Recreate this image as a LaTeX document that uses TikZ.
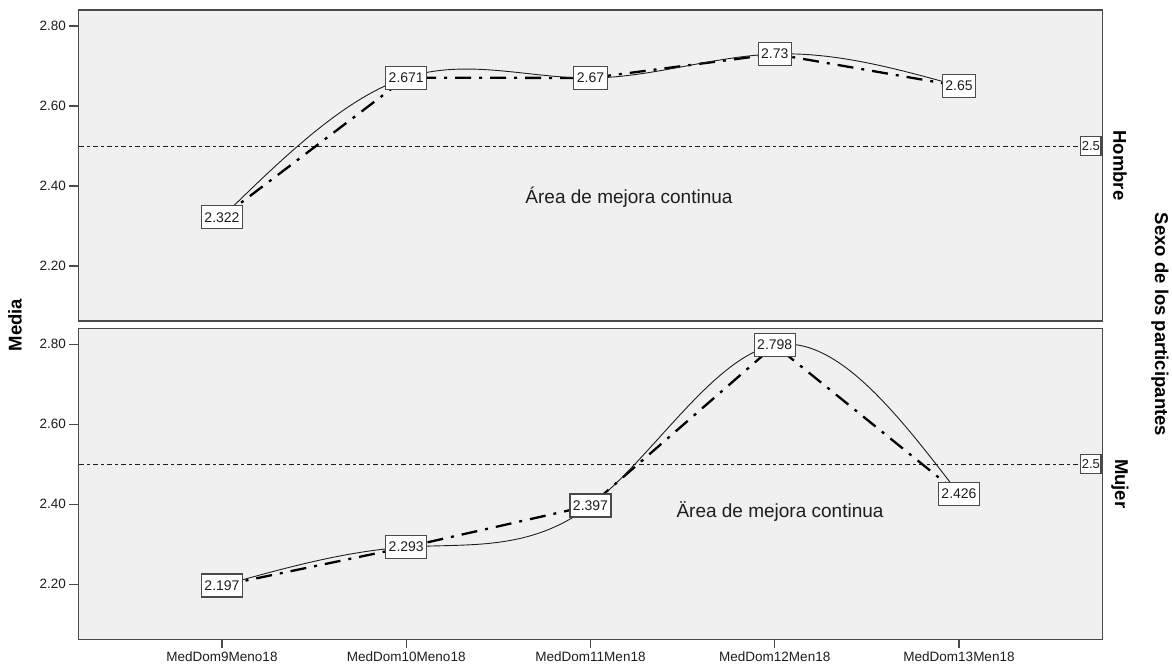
\documentclass[tikz,border=0pt]{standalone}
\usepackage{fontspec}
\setmainfont{Liberation Sans}
\definecolor{panelbg}{HTML}{F0F0F0}
\definecolor{frame}{HTML}{4A4A4A}
\definecolor{inkc}{HTML}{1E1E1E}
\begin{document}
\begin{tikzpicture}[x=1pt,y=-1pt,
  panel/.style={draw=frame,fill=panelbg,line width=1.4pt},
  ticklab/.style={anchor=east,inner sep=0pt,text=inkc,font=\fontsize{13.5}{16}\selectfont},
  xlab/.style={anchor=center,inner sep=0pt,text=inkc,font=\fontsize{13.5}{16}\selectfont},
  tickmark/.style={draw=frame,line width=1.2pt},
  valbox/.style={draw=frame,fill=white,line width=1.1pt,text=inkc,font=\fontsize{14}{16}\selectfont,inner xsep=3pt,inner ysep=0pt,minimum height=23pt},
  refbox/.style={draw=frame,fill=white,line width=1.1pt,text=inkc,font=\fontsize{13}{15}\selectfont,inner xsep=1pt,inner ysep=0pt,minimum height=19pt,anchor=east},
  refline/.style={draw=inkc,line width=1pt,dash pattern=on 5pt off 3pt on 3pt off 3pt},
  meanline/.style={draw=black,line width=2.3pt,dash pattern=on 16pt off 8pt on 3pt off 8pt},
  splineline/.style={draw=inkc,line width=0.9pt},
  annot/.style={text=inkc,inner sep=0pt,font=\fontsize{19}{22}\selectfont},
  sidelab/.style={text=black,inner sep=0pt,font=\fontsize{18.5}{21}\selectfont\bfseries}
]
\useasboundingbox (0,0) rectangle (1172,665);
\fill[white] (0,0) rectangle (1172,665);

% panels
\draw[panel] (78.3,10) rectangle (1102.7,321);
\draw[panel] (78.3,328.3) rectangle (1102.7,639.3);

% y ticks
\foreach \lab/\yy [count=\k] in {2.80/26,2.60/106,2.40/186,2.20/266}{
  \draw[tickmark] (69,\yy) -- (78.3,\yy);
  \node[ticklab] (yt\k) at (66,\yy) {\lab};
}
\foreach \lab/\yy [count=\k] in {2.80/344.3,2.60/424.3,2.40/504.3,2.20/584.3}{
  \draw[tickmark] (69,\yy) -- (78.3,\yy);
  \node[ticklab] (yb\k) at (66,\yy) {\lab};
}

% x ticks
\foreach \lab/\xx [count=\k] in {MedDom9Meno18/222,MedDom10Meno18/406.25,MedDom11Men18/590.5,MedDom12Men18/774.75,MedDom13Men18/959}{
  \draw[tickmark] (\xx,639.3) -- (\xx,647.5);
  \node[xlab] (xl\k) at (\xx,656.5) {\lab};
}

% reference lines 2.5
\node[refbox] (rh) at (1101.5,146) {2.5};
\node[refbox] (rm) at (1101.5,464.3) {2.5};
\coordinate (rhs) at (79,146);
\coordinate (rms) at (79,464.3);
\draw[refline] (rhs) -- (rh.west);
\draw[refline] (rms) -- (rm.west);

% annotations
\node[annot] (ah) at (629,197) {Área de mejora continua};
\node[annot] (am) at (780,512) {Ärea de mejora continua};

% data points
\coordinate (h0) at (222,217.2);
\coordinate (h1) at (406.25,77.6);
\coordinate (h2) at (590.5,78.0);
\coordinate (h3) at (774.75,54.0);
\coordinate (h4) at (959,86.0);
\coordinate (m0) at (222,585.5);
\coordinate (m1) at (406.25,547.1);
\coordinate (m2) at (590.5,505.5);
\coordinate (m3) at (774.75,345.1);
\coordinate (m4) at (959,493.9);

% straight dash-dot lines
\draw[meanline] (h0) -- (h1) -- (h2) -- (h3) -- (h4);
\draw[meanline] (m0) -- (m1) -- (m2) -- (m3) -- (m4);

% spline lines
\draw[splineline] (h0) .. controls (283.42,157.25) and (344.83,97.30) .. (h1)
  .. controls (467.67,57.89) and (529.08,78.43) .. (h2)
  .. controls (651.92,77.57) and (713.33,56.16) .. (h3)
  .. controls (836.17,51.84) and (897.58,68.92) .. (h4);
\draw[splineline] (m0) .. controls (283.42,568.32) and (344.83,551.13) .. (m1)
  .. controls (467.67,543.07) and (529.08,552.18) .. (m2)
  .. controls (651.92,458.82) and (713.33,356.33) .. (m3)
  .. controls (836.17,333.87) and (897.58,413.88) .. (m4);

% value boxes
\node[valbox] (bh0) at (h0) {2.322};
\node[valbox] (bh1) at (h1) {2.671};
\node[valbox] (bh2) at (h2) {2.67};
\node[valbox] (bh3) at (h3) {2.73};
\node[valbox] (bh4) at (h4) {2.65};
\node[valbox] (bm0) at (m0) {2.197};
\node[valbox] (bm1) at (m1) {2.293};
\node[valbox] (bm2) at (m2) {2.397};
\node[valbox] (bm3) at (m3) {2.798};
\node[valbox] (bm4) at (m4) {2.426};

% axis and facet labels
\node[sidelab,rotate=90] (media) at (15,325) {Media};
\node[sidelab,rotate=-90] (hombre) at (1120,165.5) {Hombre};
\node[sidelab,rotate=-90] (mujer) at (1120,483.8) {Mujer};
\node[sidelab,rotate=-90] (sexo) at (1160,324.5) {Sexo de los participantes};
\end{tikzpicture}
\end{document}
